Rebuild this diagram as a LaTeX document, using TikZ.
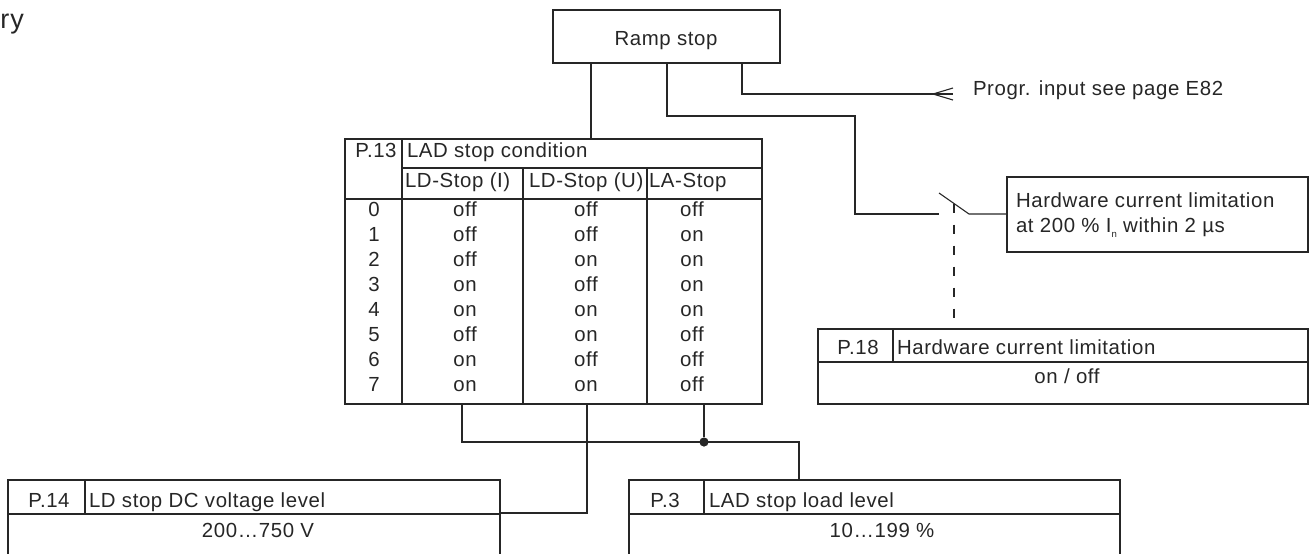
\documentclass[tikz,border=0pt]{standalone}
\usepackage{fontspec}
\setmainfont{Liberation Sans}[LetterSpace=3]
\tikzset{
  box/.style={draw, rectangle, inner sep=0pt, outer sep=0pt, anchor=north west},
  txt/.style={inner sep=0pt, outer sep=0pt, font=\fontsize{10.2}{12.5}\selectfont},
  jdot/.style={circle, fill, inner sep=0pt, outer sep=0pt, minimum size=4.6pt},
  dashline/.style={dash pattern=on 4.75pt off 5.75pt},
}
\begin{document}
\begin{tikzpicture}[x=0.5pt, y=-0.5pt, line width=0.55pt, color=black!85]
\useasboundingbox (0,0) rectangle (1315,553);
\clip (0,0) rectangle (1315,553);

% boxes
\node[box, minimum width=113.5pt, minimum height=26.5pt] (ramp) at (553,10) {};
\node[box, minimum width=208.5pt, minimum height=132.5pt] (p13) at (345,139) {};
\node[box, minimum width=150.5pt, minimum height=37.5pt] (hw) at (1007,177) {};
\node[box, minimum width=245pt, minimum height=37.5pt] (p18) at (818,329) {};
\node[box, minimum width=246pt, minimum height=60pt] (p14) at (8,480) {};
\node[box, minimum width=245.5pt, minimum height=60pt] (p3) at (629,480) {};

% table P.13 grid
\draw (402,139) -- (402,404);
\draw (402,168) -- (762,168);
\draw (345,199) -- (762,199);
\draw (523,168) -- (523,404);
\draw (647,168) -- (647,404);
% P.18 grid
\draw (893,329) -- (893,362);
\draw (818,362) -- (1308,362);
% P.14 grid
\draw (85,480) -- (85,514);
\draw (8,514) -- (500,514);
% P.3 grid
\draw (704,480) -- (704,514);
\draw (629,514) -- (1120,514);

% coordinates
\coordinate (swL) at (939,214);
\coordinate (swT) at (939,193);
\coordinate (swR) at (969,214);
\coordinate (swM) at (954,203.5);
\coordinate (progin) at (953,94);
\node[jdot] (junc) at (704,442) {};

% connectors
\draw (591,0 |- ramp.south) -- (591,0 |- p13.north);
\draw (667,0 |- ramp.south) -- (667,116) -- (855,116) -- (855,214) -- (swL);
\draw (swT) -- (swR) -- (swR -| hw.west);
\draw[dashline] (swM) -- (954,0 |- p18.north);
\draw (742,0 |- ramp.south) -- (742,94) -- (progin);
\draw ([yshift=3pt]progin) -- (933,94) -- ([yshift=-3pt]progin);
\draw (462,0 |- p13.south) -- (462,442) -- (799,442) -- (799,0 |- p3.north);
\draw (704,0 |- p13.south) -- (junc);
\draw (587,0 |- p13.south) -- (587,513) -- (587,513 -| p14.east);

% texts
\node[txt, anchor=base west, font=\fontsize{13.5}{16}\selectfont] (ry) at (0.5,28) {ry};
\node[txt, anchor=base] (ramptxt) at (666,45) {Ramp stop};
\node[txt, anchor=base west] (progtxt) at (973,95) {Progr. input see page E82};
\node[txt, anchor=base west] (hwa) at (1016,207) {Hardware current limitation};
\node[txt, anchor=base west] (hwb) at (1016,232) {at 200 \% I\raisebox{-2.5pt}{\fontsize{4.8}{5}\selectfont n} within 2 µs};

\node[txt, anchor=base] (p13a) at (376,157) {P.13};
\node[txt, anchor=base west] (p13b) at (407,157) {LAD stop condition};
\node[txt, anchor=base west] (h1) at (405,187) {LD-Stop (I)};
\node[txt, anchor=base west] (h2) at (529,187) {LD-Stop (U)};
\node[txt, anchor=base west] (h3) at (649,187) {LA-Stop};

\foreach \i/\a/\b/\c in {0/off/off/off,1/off/off/on,2/off/on/on,3/on/off/on,4/on/on/on,5/off/on/off,6/on/off/off,7/on/on/off}{
  \node[txt, anchor=base] (r\i n) at (374,216+25*\i) {\i};
  \node[txt, anchor=base] (r\i a) at (465,216+25*\i) {\a};
  \node[txt, anchor=base] (r\i b) at (586,216+25*\i) {\b};
  \node[txt, anchor=base] (r\i c) at (692,216+25*\i) {\c};
}

\node[txt, anchor=base] (p18a) at (858,354) {P.18};
\node[txt, anchor=base west] (p18b) at (897,354) {Hardware current limitation};
\node[txt, anchor=base] (p18c) at (1067,383) {on / off};

\node[txt, anchor=base] (p14a) at (49,507) {P.14};
\node[txt, anchor=base west] (p14b) at (89,507) {LD stop DC voltage level};
\node[txt, anchor=base] (p14c) at (258,537) {200…750 V};

\node[txt, anchor=base] (p3a) at (665,507) {P.3};
\node[txt, anchor=base west] (p3b) at (709,507) {LAD stop load level};
\node[txt, anchor=base] (p3c) at (882,537) {10…199 \%};
\end{tikzpicture}
\end{document}
